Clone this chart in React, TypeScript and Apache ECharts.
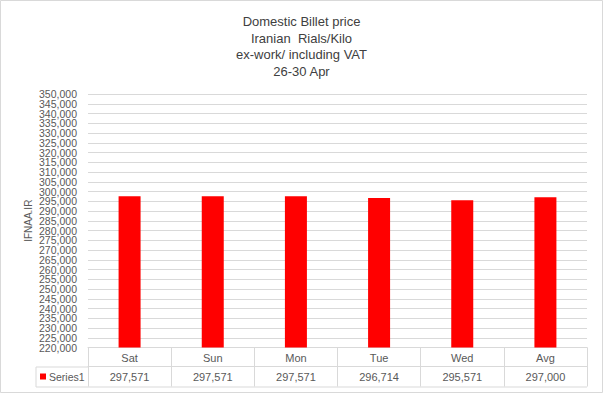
import React, { useEffect, useRef } from "react";
import * as echarts from "echarts";

const titleLines = ["Domestic Billet price", "Iranian  Rials/Kilo", "ex-work/ including VAT", "26-30 Apr"];
const categories = ["Sat", "Sun", "Mon", "Tue", "Wed", "Avg"];
const seriesName = "Series1";
const values = [297571, 297571, 297571, 296714, 295571, 297000];
const yMin = 220000;
const yMax = 350000;
const yStep = 5000;
const yAxisName = "IFNAA.IR";
const yTickValues: number[] = [];
for (let v = yMin; v <= yMax; v += yStep) yTickValues.push(v);

const fmt = (v: number) => Number(v).toLocaleString("en-US");
const yTickLabels = yTickValues.map(fmt);

export default function App() {
  const ref = useRef<HTMLDivElement>(null);
  useEffect(() => {
    if (!ref.current) return;
    const chart = echarts.init(ref.current, null, { renderer: "svg" });
    const font = "'Liberation Sans', Arial, sans-serif";
    const lineColor = "#d9d9d9";
    const textColor = "#595959";
    chart.setOption({
      animation: false,
      backgroundColor: "#ffffff",
      textStyle: { fontFamily: font },
      title: {
        text: titleLines.join("\n"),
        left: "center",
        top: 8,
        textStyle: { fontSize: 13, lineHeight: 16.7, color: "#404040", fontWeight: "normal", fontFamily: font },
      },
      legend: {
        data: [seriesName],
        left: 40,
        top: 371,
        icon: "rect",
        itemWidth: 6,
        itemHeight: 6,
        itemGap: 3,
        textStyle: { fontSize: 10.5, color: textColor, padding: [0, 0, 0, -2] },
        padding: 0,
      },
      grid: { left: 88, right: 16, top: 94, bottom: 45.5 },
      xAxis: [
        {
          type: "category",
          data: categories,
          position: "bottom",
          axisLine: { show: true, lineStyle: { color: lineColor } },
          axisTick: { show: true, length: 39, lineStyle: { color: lineColor } },
          axisLabel: { fontSize: 11, color: textColor, margin: 5 },
        },
        {
          type: "category",
          data: values.map(fmt),
          position: "bottom",
          offset: 19,
          axisLine: { show: true, lineStyle: { color: lineColor } },
          axisTick: { show: false },
          axisLabel: { fontSize: 11, color: textColor, margin: 5 },
        },
      ],
      yAxis: [
        {
          type: "value",
          min: yMin,
          max: yMax,
          interval: yStep,
          name: yAxisName,
          nameLocation: "middle",
          nameRotate: 90,
          nameGap: 55,
          nameMoveOverlap: false,
          nameTextStyle: { fontSize: 10, color: textColor },
          axisLine: { show: false },
          axisTick: { show: false },
          axisLabel: { show: false },
          splitLine: { lineStyle: { color: lineColor } },
        },
        {
          type: "category",
          data: yTickLabels,
          position: "left",
          boundaryGap: false,
          axisLine: { show: false },
          axisTick: { show: false },
          splitLine: { show: false },
          axisLabel: { interval: 0, fontSize: 10.5, color: textColor, margin: 11 },
        },
      ],
      series: [
        {
          name: seriesName,
          type: "bar",
          yAxisIndex: 0,
          data: values,
          barWidth: 22,
          itemStyle: { color: "#ff0000" },
        },
      ],
      graphic: [
        { type: "rect", shape: { x: 0.5, y: 0.5, width: 602, height: 392 }, style: { fill: "none", stroke: lineColor, lineWidth: 1 }, silent: true },
        { type: "line", shape: { x1: 36, y1: 367, x2: 88, y2: 367 }, style: { stroke: lineColor, lineWidth: 1 }, silent: true },
        { type: "line", shape: { x1: 36, y1: 387, x2: 587, y2: 387 }, style: { stroke: lineColor, lineWidth: 1 }, silent: true },
        { type: "line", shape: { x1: 36, y1: 367, x2: 36, y2: 387 }, style: { stroke: lineColor, lineWidth: 1 }, silent: true },
      ],
    });
    return () => chart.dispose();
  }, []);
  return <div ref={ref} style={{ position: "fixed", left: 0, top: 0, width: 603, height: 393 }} />;
}
